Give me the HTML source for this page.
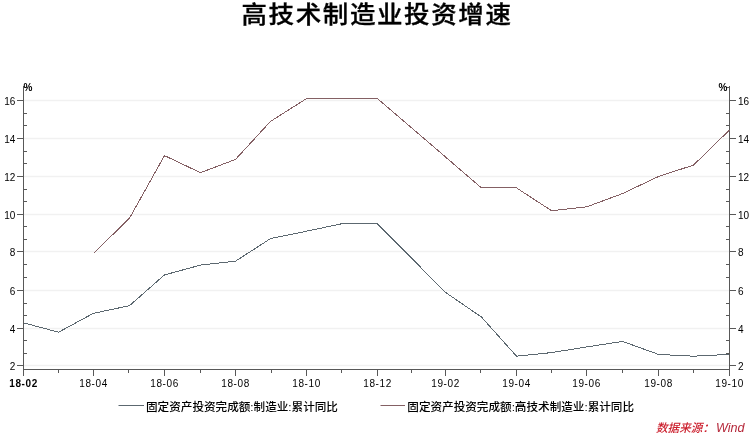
<!DOCTYPE html><html><head><meta charset="utf-8"><style>
html,body{margin:0;padding:0;background:#fff;}svg{display:block;}
.n{font-family:"Liberation Sans",sans-serif;font-size:10px;fill:#000;}
.xl{letter-spacing:0.65px;font-size:10px;}
.t{font-family:"Liberation Sans","Noto Sans CJK SC",sans-serif;font-weight:500;font-size:25.5px;fill:#000;stroke:#000;stroke-width:0.35px;letter-spacing:1.62px;}
.lg{font-family:"Liberation Sans","Noto Sans CJK SC",sans-serif;font-size:11.6px;font-weight:500;fill:#000;}
.src{font-family:"Liberation Sans","Noto Sans CJK SC",sans-serif;font-size:12px;fill:#c01c2c;font-style:italic;}
</style></head><body>
<svg width="750" height="436" viewBox="0 0 750 436">
<rect width="750" height="436" fill="#fff"/>
<text class="t" x="377" y="24" text-anchor="middle" transform="translate(0 0.9) scale(1 0.925)">高技术制造业投资增速</text>
<path d="M24.0 365.5H729.0M24.0 328.5H729.0M24.0 290.5H729.0M24.0 251.5H729.0M24.0 214.5H729.0M24.0 176.5H729.0M24.0 138.5H729.0M24.0 100.5H729.0" stroke="#f1f1f1" stroke-width="1.5" fill="none"/>
<path d="M23.5 86.0V376.0M729.5 86.0V376.0M23.5 369.5H729.5M17.0 365.5H23.5M729.5 365.5H736.0M17.0 328.5H23.5M729.5 328.5H736.0M17.0 290.5H23.5M729.5 290.5H736.0M17.0 251.5H23.5M729.5 251.5H736.0M17.0 214.5H23.5M729.5 214.5H736.0M17.0 176.5H23.5M729.5 176.5H736.0M17.0 138.5H23.5M729.5 138.5H736.0M17.0 100.5H23.5M729.5 100.5H736.0M23.5 353.5H27.0M726.0 353.5H729.5M23.5 340.5H27.0M726.0 340.5H729.5M23.5 315.5H27.0M726.0 315.5H729.5M23.5 303.5H27.0M726.0 303.5H729.5M23.5 277.5H27.0M726.0 277.5H729.5M23.5 264.5H27.0M726.0 264.5H729.5M23.5 239.5H27.0M726.0 239.5H729.5M23.5 226.5H27.0M726.0 226.5H729.5M23.5 201.5H27.0M726.0 201.5H729.5M23.5 189.5H27.0M726.0 189.5H729.5M23.5 163.5H27.0M726.0 163.5H729.5M23.5 151.5H27.0M726.0 151.5H729.5M23.5 125.5H27.0M726.0 125.5H729.5M23.5 113.5H27.0M726.0 113.5H729.5M23.5 87.5H27.0M726.0 87.5H729.5M23.5 369.5V376.0M58.5 369.5V373.0M93.5 369.5V376.0M128.5 369.5V373.0M164.5 369.5V376.0M200.5 369.5V373.0M235.5 369.5V376.0M271.5 369.5V373.0M306.5 369.5V376.0M341.5 369.5V373.0M377.5 369.5V376.0M411.5 369.5V373.0M445.5 369.5V376.0M480.5 369.5V373.0M516.5 369.5V376.0M551.5 369.5V373.0M586.5 369.5V376.0M622.5 369.5V373.0M658.5 369.5V376.0M693.5 369.5V373.0M729.5 369.5V376.0" stroke="#585858" stroke-width="1" fill="none" shape-rendering="crispEdges"/>
<text class="n" x="15.3" y="370.0" text-anchor="end">2</text>
<text class="n" x="738" y="370.0">2</text>
<text class="n" x="15.3" y="333.0" text-anchor="end">4</text>
<text class="n" x="738" y="333.0">4</text>
<text class="n" x="15.3" y="295.0" text-anchor="end">6</text>
<text class="n" x="738" y="295.0">6</text>
<text class="n" x="15.3" y="256.0" text-anchor="end">8</text>
<text class="n" x="738" y="256.0">8</text>
<text class="n" x="15.3" y="219.0" text-anchor="end">10</text>
<text class="n" x="738" y="219.0">10</text>
<text class="n" x="15.3" y="181.0" text-anchor="end">12</text>
<text class="n" x="738" y="181.0">12</text>
<text class="n" x="15.3" y="143.0" text-anchor="end">14</text>
<text class="n" x="738" y="143.0">14</text>
<text class="n" x="15.3" y="105.0" text-anchor="end">16</text>
<text class="n" x="738" y="105.0">16</text>
<text class="n" x="23.5" y="90.5" style="font-weight:700">%</text>
<text class="n" x="718.5" y="90.5" style="font-weight:700">%</text>
<text class="n xl" x="23.6" y="387" text-anchor="middle" style="font-weight:700">18-02</text>
<text class="n xl" x="93.6" y="387" text-anchor="middle">18-04</text>
<text class="n xl" x="164.6" y="387" text-anchor="middle">18-06</text>
<text class="n xl" x="235.6" y="387" text-anchor="middle">18-08</text>
<text class="n xl" x="306.6" y="387" text-anchor="middle">18-10</text>
<text class="n xl" x="377.6" y="387" text-anchor="middle">18-12</text>
<text class="n xl" x="445.6" y="387" text-anchor="middle">19-02</text>
<text class="n xl" x="516.6" y="387" text-anchor="middle">19-04</text>
<text class="n xl" x="586.6" y="387" text-anchor="middle">19-06</text>
<text class="n xl" x="658.6" y="387" text-anchor="middle">19-08</text>
<text class="n xl" x="729.6" y="387" text-anchor="middle">19-10</text>
<path d="M93.5 253.4 L129.5 218.2 L164.5 155.6 L200.5 172.7 L235.5 159.4 L270.5 121.4 L306.5 98.6 L341.5 98.6 L377.5 98.6 L481.5 187.9 L516.5 187.9 L551.5 210.7 L586.5 206.9 L622.5 193.6 L658.5 176.5 L693.5 165.1 L729.5 130.0" stroke="#846064" stroke-width="1" fill="none" shape-rendering="crispEdges"/>
<path d="M23.5 322.8 L58.5 332.2 L93.5 313.3 L129.5 305.7 L164.5 274.9 L200.5 265.1 L235.5 261.2 L270.5 238.6 L306.5 231.2 L341.5 223.8 L377.5 223.8 L445.5 292.4 L481.5 317.1 L516.5 356.2 L551.5 352.6 L586.5 347.0 L622.5 341.4 L658.5 354.4 L693.5 356.2 L729.5 354.4" stroke="#5c6870" stroke-width="1" fill="none" shape-rendering="crispEdges"/>
<path d="M118.5 405.5H144" stroke="#5c6870" stroke-width="1"/>
<text class="lg" x="146" y="411">固定资产投资完成额:制造业:累计同比</text>
<path d="M380.5 405.5H405" stroke="#846064" stroke-width="1"/>
<text class="lg" x="407.3" y="411">固定资产投资完成额:高技术制造业:累计同比</text>
<text class="src" x="656" y="432" style="font-size:11.6px;font-weight:500;fill:#cc1f2d">数据来源：</text>
<text class="src" x="716" y="432" style="font-size:12.6px;fill:#b5283a">Wind</text>
</svg></body></html>
